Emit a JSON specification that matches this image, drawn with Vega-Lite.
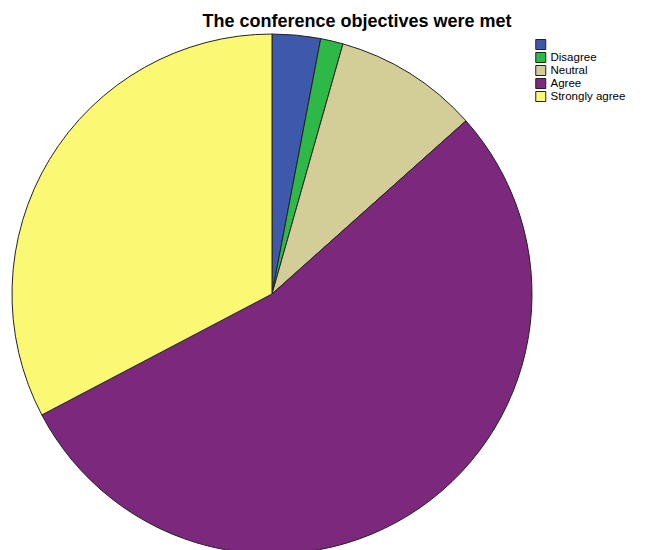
{
  "$schema": "https://vega.github.io/schema/vega-lite/v6.json",
  "width": 544,
  "height": 518,
  "autosize": "none",
  "padding": {"left": 0, "top": 35, "right": 103, "bottom": 0},
  "background": "white",
  "title": {
    "text": "The conference objectives were met",
    "font": "Liberation Sans",
    "fontSize": 18,
    "fontWeight": "bold",
    "color": "black",
    "anchor": "middle",
    "dx": 85,
    "offset": 1
  },
  "data": {
    "values": [
      {"response": "", "percent": 3.0, "ord": 1},
      {"response": "Disagree", "percent": 1.4, "ord": 2},
      {"response": "Neutral", "percent": 9.0, "ord": 3},
      {"response": "Agree", "percent": 53.9, "ord": 4},
      {"response": "Strongly agree", "percent": 32.7, "ord": 5}
    ]
  },
  "mark": {"type": "arc", "outerRadius": 260, "stroke": "#222222", "strokeWidth": 1},
  "encoding": {
    "theta": {"field": "percent", "type": "quantitative", "stack": true},
    "order": {"field": "ord", "type": "quantitative"},
    "color": {
      "field": "response",
      "type": "nominal",
      "scale": {
        "domain": ["", "Disagree", "Neutral", "Agree", "Strongly agree"],
        "range": ["#3E58AC", "#2EB848", "#D3CE97", "#7C287D", "#FBF873"]
      },
      "legend": {
        "title": null,
        "orient": "none",
        "legendX": 535,
        "legendY": 3,
        "symbolType": "square",
        "symbolSize": 100,
        "symbolStrokeColor": "#222222",
        "symbolStrokeWidth": 1,
        "labelFont": "Liberation Sans",
        "labelFontSize": 11.5,
        "labelColor": "black",
        "labelOffset": 4,
        "labelLimit": 200,
        "clipHeight": 13,
        "rowPadding": 0
      }
    }
  }
}
